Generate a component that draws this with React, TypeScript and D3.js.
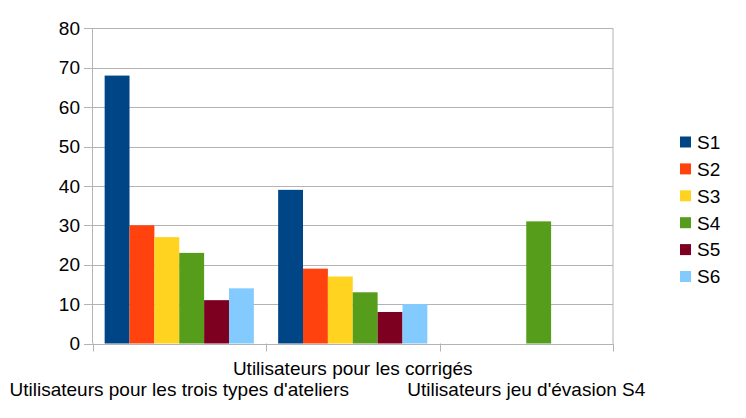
import { useEffect, useRef } from "react";
import * as d3 from "d3";

const categories = [
  "Utilisateurs pour les trois types d'ateliers",
  "Utilisateurs pour les corrigés",
  "Utilisateurs jeu d'évasion S4",
];
const seriesNames = ["S1", "S2", "S3", "S4", "S5", "S6"];
const seriesColors = ["#004586", "#ff420e", "#ffd320", "#579d1c", "#7e0021", "#83caff"];
// values[series][category]
const s1 = [68, 39, 0];
const s2 = [30, 19, 0];
const s3 = [27, 17, 0];
const s4 = [23, 13, 31];
const s5 = [11, 8, 0];
const s6 = [14, 10, 0];
const seriesValues = [s1, s2, s3, s4, s5, s6];
const yTicks = [0, 10, 20, 30, 40, 50, 60, 70, 80];

const WIDTH = 746;
const HEIGHT = 418;
const PLOT = { left: 92.5, right: 613, top: 28.3, bottom: 343.5 };
const GRID = "#b3b3b3";
const FONT = "'Liberation Sans', Arial, sans-serif";
const FS = 19;

const App = () => {
  const svgRef = useRef<SVGSVGElement | null>(null);

  useEffect(() => {
    if (!svgRef.current) return;
    const svg = d3.select(svgRef.current);
    svg.selectAll("*").remove();

    const x0 = d3
      .scaleBand()
      .domain(categories)
      .range([PLOT.left, PLOT.right])
      .paddingInner(0.14)
      .paddingOuter(0.07);

    const x1 = d3
      .scaleBand()
      .domain(seriesNames)
      .range([0, x0.bandwidth()]);

    const y = d3.scaleLinear().domain([0, 80]).range([PLOT.bottom, PLOT.top]);

    // Grid lines + y ticks
    svg
      .append("g")
      .selectAll("line")
      .data(yTicks)
      .join("line")
      .attr("x1", PLOT.left - 8.5)
      .attr("x2", PLOT.right)
      .attr("y1", (v) => Math.round(y(v)) + 0.5)
      .attr("y2", (v) => Math.round(y(v)) + 0.5)
      .attr("stroke", GRID)
      .attr("stroke-width", 1);

    // y labels
    svg
      .append("g")
      .selectAll("text")
      .data(yTicks)
      .join("text")
      .attr("x", 80)
      .attr("y", (v) => y(v))
      .attr("dy", "0.35em")
      .attr("text-anchor", "end")
      .attr("font-family", FONT)
      .attr("font-size", FS)
      .attr("fill", "#000")
      .text((v) => String(v));

    // vertical axis + right border
    const step = x0.step();
    const boundaries = d3.range(categories.length + 1).map((i) => PLOT.left + i * step);
    svg
      .append("line")
      .attr("x1", PLOT.left)
      .attr("x2", PLOT.left)
      .attr("y1", PLOT.top)
      .attr("y2", PLOT.bottom)
      .attr("stroke", GRID);
    svg
      .append("line")
      .attr("x1", PLOT.right)
      .attr("x2", PLOT.right)
      .attr("y1", PLOT.top)
      .attr("y2", PLOT.bottom)
      .attr("stroke", GRID);

    // Bars
    const g = svg.append("g");
    categories.forEach((cat, ci) => {
      seriesNames.forEach((s, si) => {
        const v = seriesValues[si][ci];
        if (!v) return;
        g.append("rect")
          .attr("x", (x0(cat) ?? 0) + (x1(s) ?? 0))
          .attr("width", x1.bandwidth())
          .attr("y", y(v))
          .attr("height", y(0) - y(v))
          .attr("fill", seriesColors[si]);
      });
    });

    // x axis ticks
    svg
      .append("g")
      .selectAll("line")
      .data(boundaries)
      .join("line")
      .attr("x1", (d) => Math.round(d) + 0.5)
      .attr("x2", (d) => Math.round(d) + 0.5)
      .attr("y1", PLOT.bottom)
      .attr("y2", PLOT.bottom + 8)
      .attr("stroke", GRID);

    // category labels, staggered
    svg
      .append("g")
      .selectAll("text")
      .data(categories)
      .join("text")
      .attr("x", (d) => (x0(d) ?? 0) + x0.bandwidth() / 2)
      .attr("y", (_, i) => (i % 2 === 1 ? 374.5 : 395.5))
      .attr("text-anchor", "middle")
      .attr("font-family", FONT)
      .attr("font-size", FS)
      .attr("fill", "#000")
      .text((d) => d);

    // Legend
    const legend = svg
      .append("g")
      .selectAll("g")
      .data(seriesNames)
      .join("g")
      .attr("transform", (_, i) => `translate(680, ${142 + i * 26.9})`);
    legend
      .append("rect")
      .attr("x", 0)
      .attr("y", -5.5)
      .attr("width", 11)
      .attr("height", 11)
      .attr("fill", (_, i) => seriesColors[i]);
    legend
      .append("text")
      .attr("x", 17)
      .attr("y", 0)
      .attr("dy", "0.36em")
      .attr("font-family", FONT)
      .attr("font-size", FS)
      .attr("fill", "#000")
      .text((d) => d);
  }, []);

  return (
    <svg
      ref={svgRef}
      width={WIDTH}
      height={HEIGHT}
      style={{ position: "absolute", left: 0, top: 0, background: "#fff" }}
    />
  );
};

export default App;
